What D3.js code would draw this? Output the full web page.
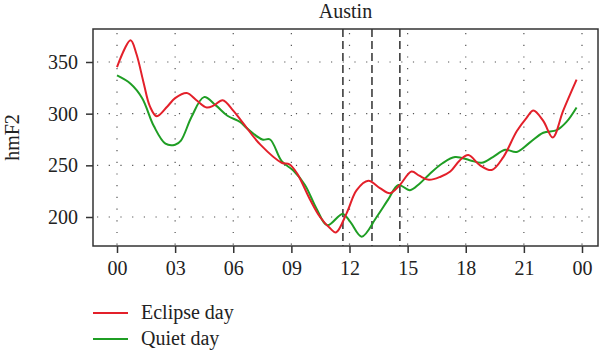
<!DOCTYPE html>
<html>
<head>
<meta charset="utf-8">
<script src="https://cdn.jsdelivr.net/npm/d3@7"></script>
<style>
  body { margin: 0; background: #fff; }
  text { font-family: "Liberation Serif", "Times New Roman", serif; fill: #222; }
</style>
</head>
<body>
<svg id="chart" width="600" height="352"></svg>
<script>
// hours (local) and hmF2 (km)
var eclipseHours = [0, 0.7, 1.0, 1.36, 1.7, 2.05, 2.6, 3.0, 3.6, 4.1, 4.63, 5.0, 5.45, 6.0, 6.5, 7.4, 8.5, 8.9, 9.3, 9.96, 10.48, 11.0, 11.3, 11.86, 12.37, 12.97, 13.57, 14.09, 14.6, 15.2, 15.6, 16.1, 16.7, 17.2, 17.7, 18.13, 18.74, 19.34, 19.94, 20.63, 21.14, 21.49, 22.0, 22.49, 23.03, 23.72];
var eclipseValues = [345, 371, 358, 331, 307, 297.5, 307, 315, 320, 313, 306, 308, 313, 303, 291, 270, 252.5, 251, 242, 217, 200, 189, 185, 204, 226, 235, 228, 223, 231, 244, 240, 236, 239, 244, 255, 260, 250, 245.5, 258, 283, 296, 303, 293, 277, 303, 333];

var quietHours = [0, 0.7, 1.3, 1.9, 2.5, 3.0, 3.3, 3.85, 4.49, 5.1, 5.7, 6.35, 6.7, 7.5, 7.9, 8.5, 9.1, 9.7, 10.3, 10.85, 11.65, 12.05, 12.63, 13.4, 14.0, 14.52, 15.12, 15.6, 16.1, 16.8, 17.45, 18.2, 18.82, 19.4, 20.03, 20.63, 21.3, 22.0, 22.7, 23.2, 23.72];
var quietValues = [337, 329, 315, 288, 271, 270, 274, 297, 316, 308, 298, 292, 286, 275, 275, 254, 245, 231, 208, 192, 203, 195, 181, 200, 217, 231, 226, 232, 241, 252, 258, 255, 252.5, 258, 265, 263, 272, 281.5, 284, 292, 306];

var eclipseMarks = [11.66, 13.16, 14.6];   // eclipse start / maximum / end
var xTicks = [0, 3, 6, 9, 12, 15, 18, 21, 24];
var xTickLabels = ["00", "03", "06", "09", "12", "15", "18", "21", "00"];
var yTicks = [200, 250, 300, 350];

var seriesNames = ["Eclipse day", "Quiet day"];
var colors = ["#e3202a", "#1f9e24"];

var svg = d3.select("#chart");
var box = { left: 93, right: 598, top: 29, bottom: 246 };

var x = d3.scaleLinear().domain([0, 24]).range([117, 582]);
var y = d3.scaleLinear().domain([200, 350]).range([217, 62]);

// dotted grid
var grid = svg.append("g")
  .attr("stroke", "#555")
  .attr("stroke-width", 1.2)
  .attr("stroke-dasharray", "1.2,10.5");

grid.selectAll("line.v")
  .data(xTicks)
  .enter().append("line")
  .attr("class", "v")
  .attr("x1", function (d) { return x(d); })
  .attr("x2", function (d) { return x(d); })
  .attr("y1", box.top + 4)
  .attr("y2", box.bottom);

grid.selectAll("line.h")
  .data(yTicks)
  .enter().append("line")
  .attr("class", "h")
  .attr("x1", box.left + 4)
  .attr("x2", box.right)
  .attr("y1", function (d) { return y(d); })
  .attr("y2", function (d) { return y(d); });

// eclipse markers
svg.append("g").selectAll("line")
  .data(eclipseMarks)
  .enter().append("line")
  .attr("x1", function (d) { return x(d); })
  .attr("x2", function (d) { return x(d); })
  .attr("y1", box.top)
  .attr("y2", box.bottom)
  .attr("stroke", "#222")
  .attr("stroke-width", 1.4)
  .attr("stroke-dasharray", "8,4");

// curves
var line = d3.line()
  .x(function (d) { return x(d[0]); })
  .y(function (d) { return y(d[1]); })
  .curve(d3.curveCatmullRom.alpha(0.5));

var series = [
  d3.zip(eclipseHours, eclipseValues),
  d3.zip(quietHours, quietValues)
];

// quiet drawn first, eclipse on top
[1, 0].forEach(function (i) {
  svg.append("path")
    .datum(series[i])
    .attr("d", line)
    .attr("fill", "none")
    .attr("stroke", colors[i])
    .attr("stroke-width", 2);
});

// frame
svg.append("rect")
  .attr("x", box.left)
  .attr("y", box.top)
  .attr("width", box.right - box.left)
  .attr("height", box.bottom - box.top)
  .attr("fill", "none")
  .attr("stroke", "#333")
  .attr("stroke-width", 1.5);

// axes
var xAxis = d3.axisBottom(x)
  .tickValues(xTicks)
  .tickFormat(function (d, i) { return xTickLabels[i]; })
  .tickSize(7)
  .tickPadding(8);

svg.append("g")
  .attr("transform", "translate(0," + box.bottom + ")")
  .call(xAxis)
  .call(function (g) { g.select(".domain").remove(); });

var yAxis = d3.axisLeft(y)
  .tickValues(yTicks)
  .tickSize(7)
  .tickPadding(8);

svg.append("g")
  .attr("transform", "translate(" + box.left + ",0)")
  .call(yAxis)
  .call(function (g) { g.select(".domain").remove(); });

svg.selectAll(".tick line").attr("stroke", "#333").attr("stroke-width", 1.5);
svg.selectAll(".tick text")
  .attr("font-family", "Liberation Serif, serif")
  .attr("font-size", 20)
  .attr("fill", "#222");

// title and y label
svg.append("text")
  .attr("x", (box.left + box.right) / 2)
  .attr("y", 18)
  .attr("text-anchor", "middle")
  .attr("font-size", 20)
  .text("Austin");

svg.append("text")
  .attr("transform", "translate(19," + ((box.top + box.bottom) / 2) + ") rotate(-90)")
  .attr("text-anchor", "middle")
  .attr("font-size", 20)
  .text("hmF2");

// legend
var legend = svg.append("g");
seriesNames.forEach(function (name, i) {
  var ly = 313 + i * 26;
  legend.append("line")
    .attr("x1", 93).attr("x2", 128)
    .attr("y1", ly).attr("y2", ly)
    .attr("stroke", colors[i])
    .attr("stroke-width", 2);
  legend.append("text")
    .attr("x", 141)
    .attr("y", ly + 6)
    .attr("font-size", 20)
    .text(name);
});
</script>
</body>
</html>
